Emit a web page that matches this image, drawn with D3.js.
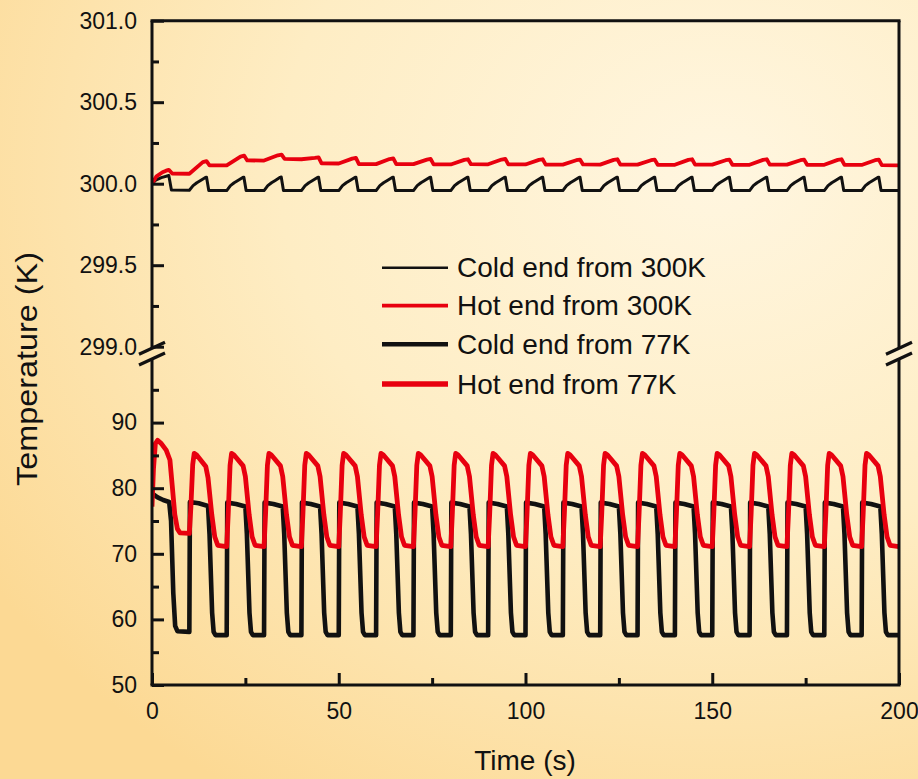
<!DOCTYPE html>
<html>
<head>
<meta charset="utf-8">
<script src="https://cdn.jsdelivr.net/npm/d3@7"></script>
<style>
  html, body { margin: 0; padding: 0; background: #fdeec8; }
  svg { display: block; }
  text { font-family: "Liberation Sans", Arial, Helvetica, sans-serif; fill: #111; }
</style>
</head>
<body>
<svg id="chart" width="918" height="779"></svg>
<script>
// ---------------- data ----------------
const xTicks = [0, 50, 100, 150, 200];
const xMinorTicks = [25, 75, 125, 175];
const upperTicks = [299.0, 299.5, 300.0, 300.5, 301.0];
const upperMinorTicks = [299.25, 299.75, 300.25, 300.75];
const lowerTicks = [50, 60, 70, 80, 90];
const lowerMinorTicks = [55, 65, 75, 85, 95];

const seriesNames = ["Cold end from 300K", "Hot end from 300K", "Cold end from 77K", "Hot end from 77K"];

// Cold end from 300K  [time s, temperature K]
const cold300 = [
  [0,300.0],[1,300.022],[2.5,300.037],[4.5,300.05],[5.2,299.962],[10,299.96],
  [11,299.988],[12,300.006],[13,300.02],[14.3,300.038],[14.6,300.04],[15.2,299.958],[20,299.958],
  [21,299.988],[22,300.006],[23,300.02],[24.3,300.038],[24.6,300.04],[25.2,299.958],[30,299.958],
  [31,299.988],[32,300.006],[33,300.02],[34.3,300.039],[34.6,300.041],[35.2,299.958],[40,299.958],
  [41,299.988],[42,300.006],[43,300.02],[44.3,300.038],[44.6,300.04],[45.2,299.958],[50,299.958],
  [51,299.988],[52,300.006],[53,300.02],[54.3,300.038],[54.6,300.04],[55.2,299.958],[60,299.958],
  [61,299.988],[62,300.006],[63,300.02],[64.3,300.038],[64.6,300.04],[65.2,299.958],[70,299.958],
  [71,299.988],[72,300.006],[73,300.02],[74.3,300.038],[74.6,300.04],[75.2,299.958],[80,299.958],
  [81,299.988],[82,300.006],[83,300.02],[84.3,300.038],[84.6,300.04],[85.2,299.958],[90,299.958],
  [91,299.988],[92,300.006],[93,300.02],[94.3,300.038],[94.6,300.04],[95.2,299.958],[100,299.958],
  [101,299.988],[102,300.006],[103,300.02],[104.3,300.038],[104.6,300.04],[105.2,299.958],[110,299.958],
  [111,299.988],[112,300.006],[113,300.02],[114.3,300.038],[114.6,300.04],[115.2,299.958],[120,299.958],
  [121,299.988],[122,300.006],[123,300.02],[124.3,300.038],[124.6,300.04],[125.2,299.958],[130,299.958],
  [131,299.988],[132,300.006],[133,300.02],[134.3,300.038],[134.6,300.04],[135.2,299.958],[140,299.958],
  [141,299.988],[142,300.006],[143,300.02],[144.3,300.038],[144.6,300.04],[145.2,299.958],[150,299.958],
  [151,299.988],[152,300.006],[153,300.02],[154.3,300.038],[154.6,300.04],[155.2,299.958],[160,299.958],
  [161,299.988],[162,300.006],[163,300.02],[164.3,300.038],[164.6,300.04],[165.2,299.958],[170,299.958],
  [171,299.988],[172,300.006],[173,300.02],[174.3,300.038],[174.6,300.04],[175.2,299.958],[180,299.958],
  [181,299.988],[182,300.006],[183,300.02],[184.3,300.038],[184.6,300.04],[185.2,299.958],[190,299.958],
  [191,299.988],[192,300.006],[193,300.02],[194.3,300.038],[194.6,300.04],[195.2,299.958],[200,299.958]
];

// Hot end from 300K
const hot300 = [
  [0,300.0],[1.2,300.045],[2.8,300.07],[3.8,300.08],[4.5,300.085],[5.4,300.062],[10,300.061],
  [13.6,300.132],[14.6,300.138],[15.4,300.112],[20,300.112],
  [23.7,300.166],[24.7,300.172],[25.5,300.143],[30,300.142],
  [33.7,300.174],[34.7,300.178],[35.5,300.152],[40,300.15],
  [43.6,300.158],[44.6,300.162],[45.4,300.125],[50,300.124],
  [53.6,300.154],[54.6,300.158],[55.4,300.12],[60,300.12],
  [63.6,300.151],[64.6,300.155],[65.4,300.12],[70,300.12],
  [73.6,300.148],[74.6,300.152],[75.4,300.118],[80,300.118],
  [83.6,300.146],[84.6,300.15],[85.4,300.12],[90,300.119],
  [93.6,300.148],[94.6,300.152],[95.4,300.118],[100,300.118],
  [103.6,300.146],[104.6,300.15],[105.4,300.117],[110,300.117],
  [113.6,300.144],[114.6,300.148],[115.4,300.118],[120,300.117],
  [123.6,300.146],[124.6,300.15],[125.4,300.117],[130,300.117],
  [133.6,300.144],[134.6,300.148],[135.4,300.116],[140,300.116],
  [143.6,300.146],[144.6,300.15],[145.4,300.117],[150,300.117],
  [153.6,300.144],[154.6,300.148],[155.4,300.116],[160,300.116],
  [163.6,300.146],[164.6,300.15],[165.4,300.117],[170,300.117],
  [173.6,300.144],[174.6,300.148],[175.4,300.116],[180,300.116],
  [183.6,300.146],[184.6,300.15],[185.4,300.115],[190,300.115],
  [193.6,300.144],[194.6,300.148],[195.4,300.114],[200,300.113]
];

// Cold end from 77K
const cold77 = [
  [0,79.2],[1.5,78.6],[3,78.2],[4.6,77.9],[5.1,75],[5.7,64],[6.2,59],[6.8,58.2],[10,58.1],
  [10.15,77.9],[12.5,77.7],[15,77.3],[15.4,73],[16.1,61],[16.5,58.1],[17,57.6],[20,57.6],
  [20.15,77.8],[22.5,77.6],[25,77.2],[25.4,73],[26.1,61],[26.5,58.1],[27,57.6],[30,57.6],
  [30.15,77.8],[32.5,77.6],[35,77.2],[35.4,73],[36.1,61],[36.5,58.1],[37,57.6],[40,57.6],
  [40.15,77.8],[42.5,77.6],[45,77.2],[45.4,73],[46.1,61],[46.5,58.1],[47,57.6],[50,57.6],
  [50.15,77.8],[52.5,77.6],[55,77.2],[55.4,73],[56.1,61],[56.5,58.1],[57,57.6],[60,57.6],
  [60.15,77.8],[62.5,77.6],[65,77.2],[65.4,73],[66.1,61],[66.5,58.1],[67,57.6],[70,57.6],
  [70.15,77.8],[72.5,77.6],[75,77.2],[75.4,73],[76.1,61],[76.5,58.1],[77,57.6],[80,57.6],
  [80.15,77.8],[82.5,77.6],[85,77.2],[85.4,73],[86.1,61],[86.5,58.1],[87,57.6],[90,57.6],
  [90.15,77.8],[92.5,77.6],[95,77.2],[95.4,73],[96.1,61],[96.5,58.1],[97,57.6],[100,57.6],
  [100.15,77.8],[102.5,77.6],[105,77.2],[105.4,73],[106.1,61],[106.5,58.1],[107,57.6],[110,57.6],
  [110.15,77.8],[112.5,77.6],[115,77.2],[115.4,73],[116.1,61],[116.5,58.1],[117,57.6],[120,57.6],
  [120.15,77.8],[122.5,77.6],[125,77.2],[125.4,73],[126.1,61],[126.5,58.1],[127,57.6],[130,57.6],
  [130.15,77.8],[132.5,77.6],[135,77.2],[135.4,73],[136.1,61],[136.5,58.1],[137,57.6],[140,57.6],
  [140.15,77.8],[142.5,77.6],[145,77.2],[145.4,73],[146.1,61],[146.5,58.1],[147,57.6],[150,57.6],
  [150.15,77.8],[152.5,77.6],[155,77.2],[155.4,73],[156.1,61],[156.5,58.1],[157,57.6],[160,57.6],
  [160.15,77.8],[162.5,77.6],[165,77.2],[165.4,73],[166.1,61],[166.5,58.1],[167,57.6],[170,57.6],
  [170.15,77.8],[172.5,77.6],[175,77.2],[175.4,73],[176.1,61],[176.5,58.1],[177,57.6],[180,57.6],
  [180.15,77.8],[182.5,77.6],[185,77.2],[185.4,73],[186.1,61],[186.5,58.1],[187,57.6],[190,57.6],
  [190.15,77.8],[192.5,77.6],[195,77.2],[195.4,73],[196.1,61],[196.5,58.1],[197,57.6],[200,57.6]
];

// Hot end from 77K
const hot77 = [
  [0,77.2],[0.4,83],[0.9,86.8],[1.5,87.3],[2.5,86.8],[3.8,85.8],[4.8,84.3],[5.4,80.5],[6.1,76],[6.8,73.8],[7.5,73.2],[10,73.1],
  [10.4,77],[10.9,83.6],[11.3,85.3],[11.9,85.1],[14.4,83.3],[15,81.6],[16,76],[16.8,72.6],[17.6,71.3],[20,71.1],
  [20.4,76],[20.9,83.5],[21.3,85.3],[21.9,85.1],[24.4,83.4],[25,81.8],[26,76],[26.8,72.6],[27.6,71.3],[30,71.1],
  [30.4,76],[30.9,83.5],[31.3,85.3],[31.9,85.1],[34.4,83.4],[35,81.8],[36,76],[36.8,72.6],[37.6,71.3],[40,71.1],
  [40.4,76],[40.9,83.5],[41.3,85.3],[41.9,85.1],[44.4,83.4],[45,81.8],[46,76],[46.8,72.6],[47.6,71.3],[50,71.1],
  [50.4,76],[50.9,83.5],[51.3,85.3],[51.9,85.1],[54.4,83.4],[55,81.8],[56,76],[56.8,72.6],[57.6,71.3],[60,71.1],
  [60.4,76],[60.9,83.5],[61.3,85.3],[61.9,85.1],[64.4,83.4],[65,81.8],[66,76],[66.8,72.6],[67.6,71.3],[70,71.1],
  [70.4,76],[70.9,83.5],[71.3,85.3],[71.9,85.1],[74.4,83.4],[75,81.8],[76,76],[76.8,72.6],[77.6,71.3],[80,71.1],
  [80.4,76],[80.9,83.5],[81.3,85.3],[81.9,85.1],[84.4,83.4],[85,81.8],[86,76],[86.8,72.6],[87.6,71.3],[90,71.1],
  [90.4,76],[90.9,83.5],[91.3,85.3],[91.9,85.1],[94.4,83.4],[95,81.8],[96,76],[96.8,72.6],[97.6,71.3],[100,71.1],
  [100.4,76],[100.9,83.5],[101.3,85.3],[101.9,85.1],[104.4,83.4],[105,81.8],[106,76],[106.8,72.6],[107.6,71.3],[110,71.1],
  [110.4,76],[110.9,83.5],[111.3,85.3],[111.9,85.1],[114.4,83.4],[115,81.8],[116,76],[116.8,72.6],[117.6,71.3],[120,71.1],
  [120.4,76],[120.9,83.5],[121.3,85.3],[121.9,85.1],[124.4,83.4],[125,81.8],[126,76],[126.8,72.6],[127.6,71.3],[130,71.1],
  [130.4,76],[130.9,83.5],[131.3,85.3],[131.9,85.1],[134.4,83.4],[135,81.8],[136,76],[136.8,72.6],[137.6,71.3],[140,71.1],
  [140.4,76],[140.9,83.5],[141.3,85.3],[141.9,85.1],[144.4,83.4],[145,81.8],[146,76],[146.8,72.6],[147.6,71.3],[150,71.1],
  [150.4,76],[150.9,83.5],[151.3,85.3],[151.9,85.1],[154.4,83.4],[155,81.8],[156,76],[156.8,72.6],[157.6,71.3],[160,71.1],
  [160.4,76],[160.9,83.5],[161.3,85.3],[161.9,85.1],[164.4,83.4],[165,81.8],[166,76],[166.8,72.6],[167.6,71.3],[170,71.1],
  [170.4,76],[170.9,83.5],[171.3,85.3],[171.9,85.1],[174.4,83.4],[175,81.8],[176,76],[176.8,72.6],[177.6,71.3],[180,71.1],
  [180.4,76],[180.9,83.5],[181.3,85.3],[181.9,85.1],[184.4,83.4],[185,81.8],[186,76],[186.8,72.6],[187.6,71.3],[190,71.1],
  [190.4,76],[190.9,83.5],[191.3,85.3],[191.9,85.1],[194.4,83.4],[195,81.8],[196,76],[196.8,72.6],[197.6,71.3],[200,71.1]
];

// ---------------- drawing ----------------
const RED = "#e8000f";
const svg = d3.select("#chart");

// background gradient
const defs = svg.append("defs");
const grad = defs.append("radialGradient").attr("id", "bg")
  .attr("cx", "0.78").attr("cy", "0.22").attr("r", "0.95");
grad.append("stop").attr("offset", "0").attr("stop-color", "#fff6e0");
grad.append("stop").attr("offset", "0.5").attr("stop-color", "#feedc4");
grad.append("stop").attr("offset", "1").attr("stop-color", "#fcd994");
svg.append("rect").attr("width", 918).attr("height", 779).attr("fill", "url(#bg)");

const x = d3.scaleLinear().domain([0, 200]).range([152, 899]);
const yUp = d3.scaleLinear().domain([299, 301]).range([346.7, 20.7]);
const yLo = d3.scaleLinear().domain([50, 100]).range([685, 357]);

const breakUp = yUp(299) + 1.5;   // upper break mark
const breakLo = yLo(100) + 2;     // lower break mark
const frameColor = "#111";

// clip paths for panels
defs.append("clipPath").attr("id", "clipUp").append("rect")
  .attr("x", x(0)).attr("y", yUp(301)).attr("width", x(200) - x(0)).attr("height", breakUp - yUp(301));
defs.append("clipPath").attr("id", "clipLo").append("rect")
  .attr("x", x(0)).attr("y", breakLo).attr("width", x(200) - x(0)).attr("height", yLo(50) - breakLo);

// series
const lineUp = d3.line().x(d => x(d[0])).y(d => yUp(d[1]));
const lineLo = d3.line().x(d => x(d[0])).y(d => yLo(d[1]));

const gUp = svg.append("g").attr("clip-path", "url(#clipUp)");
gUp.append("path").datum(cold300).attr("d", lineUp).attr("fill", "none")
  .attr("stroke", "#111").attr("stroke-width", 3).attr("stroke-linejoin", "round");
gUp.append("path").datum(hot300).attr("d", lineUp).attr("fill", "none")
  .attr("stroke", RED).attr("stroke-width", 3.8).attr("stroke-linejoin", "round");

const gLo = svg.append("g").attr("clip-path", "url(#clipLo)");
gLo.append("path").datum(cold77).attr("d", lineLo).attr("fill", "none")
  .attr("stroke", "#111").attr("stroke-width", 4.6).attr("stroke-linejoin", "round");
gLo.append("path").datum(hot77).attr("d", lineLo).attr("fill", "none")
  .attr("stroke", RED).attr("stroke-width", 4.8).attr("stroke-linejoin", "round");

// frame
const frame = svg.append("g").attr("stroke", frameColor).attr("stroke-width", 3).attr("fill", "none");
frame.append("line").attr("x1", x(0)).attr("x2", x(200)).attr("y1", yUp(301)).attr("y2", yUp(301)).attr("stroke-linecap", "square");
frame.append("line").attr("x1", x(0)).attr("x2", x(200)).attr("y1", yLo(50)).attr("y2", yLo(50)).attr("stroke-linecap", "square");
[x(0), x(200)].forEach(px => {
  frame.append("line").attr("x1", px).attr("x2", px).attr("y1", yUp(301)).attr("y2", breakUp);
  frame.append("line").attr("x1", px).attr("x2", px).attr("y1", breakLo).attr("y2", yLo(50));
  [breakUp, breakLo].forEach(by => {
    frame.append("line").attr("x1", px - 13).attr("y1", by + 6).attr("x2", px + 13).attr("y2", by - 6)
      .attr("stroke-width", 3.2);
  });
});

// axes helpers
function styleAxis(g) {
  g.select(".domain").remove();
  g.selectAll(".tick line").attr("stroke", frameColor).attr("stroke-width", 3);
  g.selectAll(".tick text").attr("fill", "#111").style("font-size", "23px")
    .style("font-family", '"Liberation Sans", Arial, sans-serif');
}

// left axis - upper panel
svg.append("g").attr("transform", `translate(${x(0)},0)`)
  .call(d3.axisLeft(yUp).tickValues(upperTicks).tickFormat(d3.format(".1f")).tickSizeInner(-12).tickSizeOuter(0).tickPadding(15))
  .call(styleAxis);
svg.append("g").attr("transform", `translate(${x(0)},0)`)
  .call(d3.axisLeft(yUp).tickValues(upperMinorTicks).tickFormat("").tickSizeInner(-7).tickSizeOuter(0))
  .call(styleAxis);
// left axis - lower panel
svg.append("g").attr("transform", `translate(${x(0)},0)`)
  .call(d3.axisLeft(yLo).tickValues(lowerTicks).tickFormat(d3.format("d")).tickSizeInner(-12).tickSizeOuter(0).tickPadding(15))
  .call(styleAxis);
svg.append("g").attr("transform", `translate(${x(0)},0)`)
  .call(d3.axisLeft(yLo).tickValues(lowerMinorTicks).tickFormat("").tickSizeInner(-7).tickSizeOuter(0))
  .call(styleAxis);
// bottom axis
svg.append("g").attr("transform", `translate(0,${yLo(50)})`)
  .call(d3.axisBottom(x).tickValues(xTicks).tickFormat(d3.format("d")).tickSizeInner(-12).tickSizeOuter(0).tickPadding(18))
  .call(styleAxis);
svg.append("g").attr("transform", `translate(0,${yLo(50)})`)
  .call(d3.axisBottom(x).tickValues(xMinorTicks).tickFormat("").tickSizeInner(-7).tickSizeOuter(0))
  .call(styleAxis);

// axis titles
svg.append("text").attr("x", 525).attr("y", 770).attr("text-anchor", "middle")
  .style("font-size", "28px").text("Time (s)");
svg.append("text").attr("transform", "translate(37,369) rotate(-90)").attr("text-anchor", "middle")
  .style("font-size", "29px").attr("textLength", 234).attr("lengthAdjust", "spacingAndGlyphs")
  .text("Temperature (K)");

// legend
const legendStyles = [
  { color: "#111", width: 2.4 },
  { color: RED, width: 3.8 },
  { color: "#111", width: 4.4 },
  { color: RED, width: 5.4 }
];
const legendRows = [267.7, 305.7, 344.3, 384];
const lg = svg.append("g");
seriesNames.forEach((name, i) => {
  lg.append("line").attr("x1", 382).attr("x2", 448).attr("y1", legendRows[i]).attr("y2", legendRows[i])
    .attr("stroke", legendStyles[i].color).attr("stroke-width", legendStyles[i].width);
  lg.append("text").attr("x", 457).attr("y", legendRows[i] + 9.5)
    .style("font-size", "28px").text(name);
});
</script>
</body>
</html>
